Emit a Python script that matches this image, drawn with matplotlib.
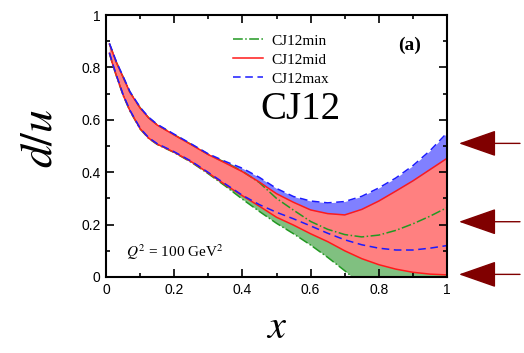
import numpy as np
import matplotlib.pyplot as plt
from matplotlib.ticker import MultipleLocator, FuncFormatter

plt.rcParams['mathtext.fontset'] = 'stix'

# x grid and d/u band edges
x = [0.01, 0.02, 0.03, 0.05, 0.07, 0.10, 0.125, 0.15, 0.20, 0.25, 0.30, 0.35,
     0.40, 0.45, 0.50, 0.55, 0.60, 0.65, 0.70, 0.75, 0.80, 0.85, 0.90, 0.95, 1.00]

mid_hi = [0.889, 0.855, 0.82, 0.763, 0.705, 0.645, 0.607, 0.58, 0.542, 0.505, 0.467, 0.435,
          0.402, 0.362, 0.318, 0.285, 0.256, 0.242, 0.237, 0.258, 0.29, 0.328, 0.367, 0.41, 0.453]
mid_lo = [0.854, 0.81, 0.77, 0.695, 0.635, 0.566, 0.53, 0.507, 0.476, 0.44, 0.397, 0.352,
          0.31, 0.27, 0.228, 0.198, 0.165, 0.135, 0.1, 0.07, 0.047, 0.03, 0.018, 0.011, 0.008]

max_hi = [0.892, 0.858, 0.823, 0.766, 0.708, 0.648, 0.61, 0.583, 0.545, 0.508, 0.47, 0.441,
          0.415, 0.38, 0.338, 0.307, 0.29, 0.283, 0.288, 0.308, 0.34, 0.378, 0.425, 0.482, 0.55]
max_lo = [0.856, 0.812, 0.772, 0.697, 0.637, 0.568, 0.532, 0.509, 0.478, 0.442, 0.399, 0.355,
          0.312, 0.276, 0.247, 0.222, 0.195, 0.167, 0.142, 0.123, 0.11, 0.103, 0.103, 0.11, 0.12]

min_hi = [0.89, 0.856, 0.821, 0.764, 0.706, 0.646, 0.608, 0.581, 0.543, 0.506, 0.468, 0.437,
          0.404, 0.36, 0.3, 0.255, 0.212, 0.182, 0.162, 0.153, 0.16, 0.178, 0.203, 0.232, 0.265]
min_lo = [0.853, 0.809, 0.769, 0.694, 0.634, 0.565, 0.529, 0.506, 0.475, 0.438, 0.394, 0.347,
          0.297, 0.25, 0.205, 0.165, 0.122, 0.075, 0.024, -0.03, -0.03, -0.03, -0.03, -0.03, -0.03]

arrow_y = [0.51, 0.211, 0.01]

c_min, c_mid, c_max = '#229922', '#ff1a1a', '#1a1aff'

fig = plt.figure(figsize=(5.24, 3.53), dpi=100)
ax = fig.add_axes([0.2023, 0.2153, 0.6508, 0.7422])

ax.fill_between(x, min_lo, min_hi, color='#80c080', lw=0)
ax.fill_between(x, max_lo, max_hi, color='#8080ff', lw=0)
ax.fill_between(x, mid_lo, mid_hi, color='#ff8080', lw=0)

ax.plot(x, min_hi, color=c_min, ls='-.', lw=1.1, label='CJ12min')
ax.plot(x, min_lo, color=c_min, ls='-.', lw=1.1)
ax.plot(x, mid_hi, color=c_mid, ls='-', lw=1.1, label='CJ12mid')
ax.plot(x, mid_lo, color=c_mid, ls='-', lw=1.1)
ax.plot(x, max_hi, color=c_max, ls=(0, (5, 3)), lw=1.1, label='CJ12max')
ax.plot(x, max_lo, color=c_max, ls=(0, (5, 3)), lw=1.1)

ax.set_xlim(0, 1)
ax.set_ylim(0, 1)
for a in (ax.xaxis, ax.yaxis):
    a.set_major_locator(MultipleLocator(0.2))
    a.set_minor_locator(MultipleLocator(0.1))
    a.set_major_formatter(FuncFormatter(lambda v, p: '%g' % round(v, 2)))
ax.tick_params(which='both', direction='in', top=True, right=True, width=1.2)
ax.tick_params(which='major', length=6, labelsize=10, pad=4)
ax.tick_params(which='minor', length=3)
for lab in ax.get_xticklabels() + ax.get_yticklabels():
    lab.set_family('Liberation Sans')
for s in ax.spines.values():
    s.set_linewidth(1.5)

ax.set_xlabel('$x$', fontsize=29)
ax.set_ylabel('$d/u$', fontsize=33)
ax.xaxis.set_label_coords(0.5, -0.115)
ax.yaxis.set_label_coords(-0.13, 0.53)

ax.legend(loc='upper left', bbox_to_anchor=(0.372, 0.928), frameon=False,
          prop={'family': 'Liberation Serif', 'size': 11}, borderpad=0, borderaxespad=0,
          handlelength=2.0, labelspacing=0.35, handletextpad=0.5)

ax.text(0.89, 0.885, '(a)', transform=ax.transAxes, ha='center', va='center',
        fontsize=14, fontweight='bold', family='Liberation Serif')
ax.text(0.57, 0.64, 'CJ12', transform=ax.transAxes, ha='center', va='center',
        fontsize=28, family='Liberation Serif')
ax.text(0.06, 0.095, r'$Q^2$ = 100 GeV$^2$', transform=ax.transAxes, ha='left',
        va='center', fontsize=11, family='Liberation Serif')

for yv in arrow_y:
    ax.annotate('', xy=(1.035, yv), xytext=(1.214, yv),
                xycoords=('axes fraction', 'data'), textcoords=('axes fraction', 'data'),
                annotation_clip=False,
                arrowprops=dict(arrowstyle='-|>,head_length=0.4,head_width=0.14',
                                mutation_scale=60, color='#800000', lw=1,
                                shrinkA=0, shrinkB=0))

fig.savefig('out.png', dpi=100)
